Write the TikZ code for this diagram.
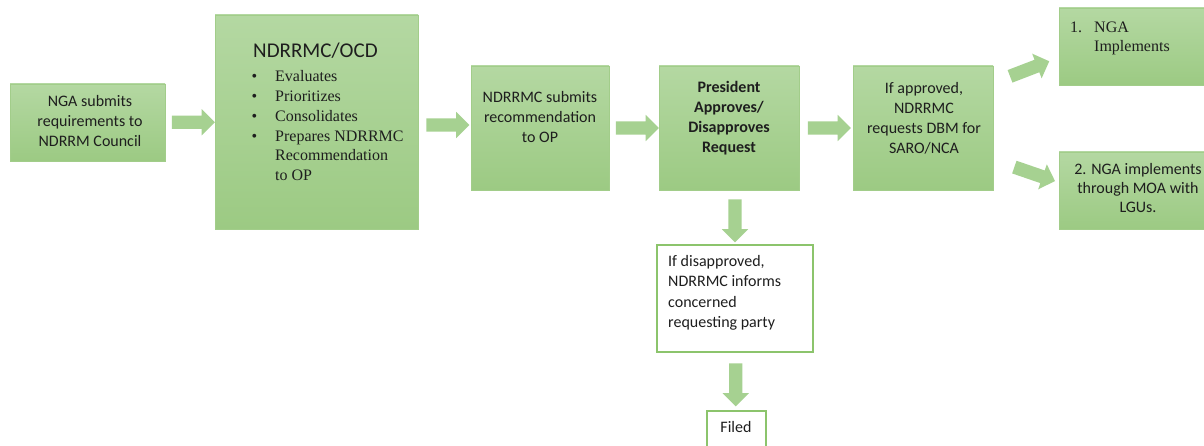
\documentclass[tikz,border=0pt]{standalone}
\usepackage{fontspec}
\setmainfont{Carlito}
\newfontfamily\tnr{Liberation Serif}
\usetikzlibrary{shapes.arrows,calc}
\definecolor{gtop}{HTML}{B4D8A2}
\definecolor{gbot}{HTML}{9CCA83}
\definecolor{gline}{HTML}{A2CD8A}
\definecolor{wline}{HTML}{8CC46C}
\definecolor{afill}{HTML}{A6D191}
\definecolor{ink}{HTML}{1E1E1E}
\newcommand{\ctab}[1]{\fontsize{16}{19.8}\selectfont\begin{tabular}[t]{@{}c@{}}#1\end{tabular}}
\newcommand{\ltab}[1]{\fontsize{16}{20}\selectfont\begin{tabular}[t]{@{}l@{}}#1\end{tabular}}
\tikzset{
  gbox/.style={draw=gline, line width=0.9pt, shading=axis, top color=gtop, bottom color=gbot, minimum width=#1, inner sep=0pt},
  wbox/.style={draw=wline, line width=1.2pt, fill=white, inner sep=0pt},
  txt/.style={anchor=base, inner sep=0pt, text=ink},
  barrow/.style={shape=single arrow, minimum height=43pt, minimum width=26pt, single arrow head extend=6.5pt, single arrow head indent=0pt, inner xsep=0pt, inner ysep=6.5pt, fill=afill, draw=none}
}
\begin{document}
\begin{tikzpicture}[x=1pt,y=-1pt]
\useasboundingbox (0,0) rectangle (1204,446);
\fill[white] (0,0) rectangle (1204,446);
\clip (0,0) rectangle (1204,446);
% boxes
\node[gbox=155pt, minimum height=77pt] (b1) at (87.5,122.5) {};
\node[gbox=203pt, minimum height=214pt] (b2) at (316.5,122) {};
\node[gbox=138pt, minimum height=124pt] (b3) at (540,128) {};
\node[gbox=140pt, minimum height=124pt] (b4) at (729,128) {};
\node[gbox=140pt, minimum height=124pt] (b5) at (923,128) {};
\node[gbox=158pt, minimum height=77pt] (b6) at (1138,46.5) {};
\node[gbox=158pt, minimum height=77pt] (b7) at (1138,190.5) {};
\node[wbox, minimum width=156pt, minimum height=107pt] (b8) at (735,298.5) {};
\node[wbox, minimum width=59pt, minimum height=59pt] (b9) at (736.5,440.5) {};
% texts
\node[txt] (t1) at (90,107) {\ctab{NGA submits\\requirements to\\NDRRM Council}};
\node[txt, anchor=base west] (t2) at (253,58) {\fontsize{21}{24}\selectfont NDRRMC/OCD};
\node[txt, anchor=base west] (t2b) at (251.5,82) {\tnr\fontsize{16}{19.7}\selectfont\begin{tabular}[t]{@{}l@{}l@{}}
\makebox[23.5pt][l]{\textbullet} & Evaluates\\
\makebox[23.5pt][l]{\textbullet} & Prioritizes\\
\makebox[23.5pt][l]{\textbullet} & Consolidates\\
\makebox[23.5pt][l]{\textbullet} & Prepares NDRRMC\\
 & Recommendation\\
 & to OP\end{tabular}};
\node[txt] (t3) at (540,103) {\ctab{NDRRMC submits\\recommendation\\to OP}};
\node[txt] (t4) at (729,93) {\bfseries\ctab{President\\Approves/\\Disapproves\\Request}};
\node[txt] (t5) at (924,94) {\ctab{If approved,\\NDRRMC\\requests DBM for\\SARO/NCA}};
\node[txt, anchor=base west] (t6) at (1070,33) {\tnr\fontsize{16}{19}\selectfont\begin{tabular}[t]{@{}l@{}l@{}}
\makebox[24pt][l]{1.} & NGA\\
 & Implements\end{tabular}};
\node[txt] (t7) at (1138,175) {\fontsize{16}{19}\selectfont\begin{tabular}[t]{@{}c@{}}2. NGA implements\\through MOA with\\LGUs.\end{tabular}};
\node[txt, anchor=base west] (t8) at (668,267) {\ltab{If disapproved,\\NDRRMC informs\\concerned\\requesting party}};
\node[txt] (t9) at (736,432) {\fontsize{16}{20}\selectfont Filed};
% block arrows
\node[barrow] (a1) at ($(b1.east)!.5!(b2.west)$) {};
\node[barrow] (a2) at ($(b2.east)!.5!(b3.west)$) {};
\node[barrow] (a3) at ($(b3.east)!.5!(b4.west)$) {};
\node[barrow] (a4) at ($(b4.east)!.5!(b5.west)$) {};
\node[barrow, rotate=-90] (a5) at ($(b4.south -| b8.north)!.5!(b8.north)$) {};
\node[barrow, rotate=-90] (a6) at ($(b8.south)!.5!(b9.north)$) {};
\node[barrow, rotate=21, minimum height=42pt] (a7) at (1026.5,70) {};
\node[barrow, rotate=-19] (a8) at (1031.5,173) {};
\end{tikzpicture}
\end{document}
